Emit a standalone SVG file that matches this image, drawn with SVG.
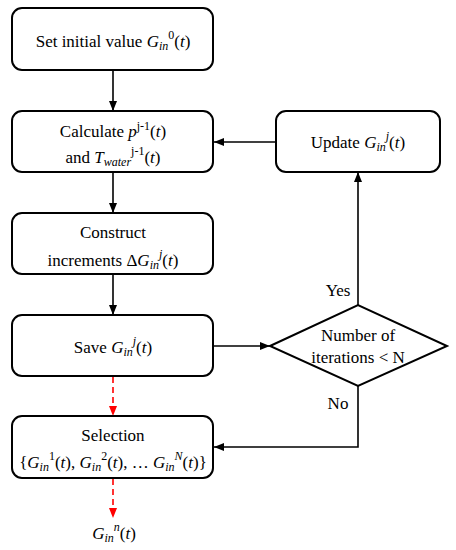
<svg xmlns="http://www.w3.org/2000/svg" width="456" height="550" viewBox="0 0 456 550">
<defs>
<marker id="ab" markerWidth="10" markerHeight="8" refX="10" refY="4" orient="auto" markerUnits="userSpaceOnUse"><path d="M0,0 L10,4 L0,8 Z" fill="#000"/></marker>
<marker id="ar" markerWidth="10" markerHeight="8" refX="10" refY="4" orient="auto" markerUnits="userSpaceOnUse"><path d="M0,0 L10,4 L0,8 Z" fill="#ff0000"/></marker>
<style>
.box{fill:#fff;stroke:#000;stroke-width:2}
.c{fill:none;stroke:#000;stroke-width:1.6}
.r{fill:none;stroke:#ff0000;stroke-width:1.6;stroke-dasharray:6,4}
</style>
</defs>
<rect width="456" height="550" fill="#fff"/>
<g id="connectors">
<line class="c" x1="113" y1="70" x2="113" y2="111" marker-end="url(#ab)"/>
<line class="c" x1="113" y1="172" x2="113" y2="213" marker-end="url(#ab)"/>
<line class="c" x1="113" y1="274" x2="113" y2="315" marker-end="url(#ab)"/>
<line class="c" x1="214" y1="346" x2="270" y2="346" marker-end="url(#ab)"/>
<line class="r" x1="113" y1="377" x2="113" y2="416" marker-end="url(#ar)"/>
<line class="r" x1="113" y1="479" x2="113" y2="518" marker-end="url(#ar)"/>
<line class="c" x1="358" y1="305" x2="358" y2="172" marker-end="url(#ab)"/>
<line class="c" x1="276" y1="142" x2="214" y2="142" marker-end="url(#ab)"/>
<polyline class="c" points="358,386 358,447 214,447" marker-end="url(#ab)"/>
</g>
<g id="labels" font-size="17" text-anchor="middle" fill="#000">
<text style="font-family:'Liberation Serif','Times New Roman',serif" x="338" y="296">Yes</text>
<text style="font-family:'Liberation Serif','Times New Roman',serif" x="338" y="409">No</text>
</g>
<g id="n1" font-size="17" text-anchor="middle">
<rect class="box" x="12" y="8" width="201" height="62" rx="10"/>
<text style="font-family:'Liberation Serif','Times New Roman',serif" x="113" y="47">Set initial value <tspan font-style="italic">G</tspan><tspan font-style="italic" font-size="12" dy="3">in</tspan><tspan font-size="12" dy="-11">0</tspan><tspan dy="8">(</tspan><tspan font-style="italic">t</tspan>)</text>
</g>
<g id="n2" font-size="17" text-anchor="middle">
<rect class="box" x="12" y="111" width="201" height="61" rx="10"/>
<text style="font-family:'Liberation Serif','Times New Roman',serif" x="113" y="137">Calculate  <tspan font-style="italic">p</tspan><tspan font-size="12" dy="-7">j-1</tspan><tspan dy="7">(</tspan><tspan font-style="italic">t</tspan>)</text>
<text style="font-family:'Liberation Serif','Times New Roman',serif" x="113" y="163">and <tspan font-style="italic">T</tspan><tspan font-style="italic" font-size="12" dy="3">water</tspan><tspan font-size="12" dy="-11">j-1</tspan><tspan dy="8">(</tspan><tspan font-style="italic">t</tspan>)</text>
</g>
<g id="n3" font-size="17" text-anchor="middle">
<rect class="box" x="12" y="213" width="201" height="61" rx="10"/>
<text style="font-family:'Liberation Serif','Times New Roman',serif" x="113" y="238">Construct</text>
<text style="font-family:'Liberation Serif','Times New Roman',serif" x="113" y="266">increments  Δ<tspan font-style="italic">G</tspan><tspan font-style="italic" font-size="12" dy="3">in</tspan><tspan font-style="italic" font-size="12" dy="-11">j</tspan><tspan dy="8">(</tspan><tspan font-style="italic">t</tspan>)</text>
</g>
<g id="n4" font-size="17" text-anchor="middle">
<rect class="box" x="12" y="315" width="201" height="61" rx="10"/>
<text style="font-family:'Liberation Serif','Times New Roman',serif" x="113" y="353">Save <tspan font-style="italic">G</tspan><tspan font-style="italic" font-size="12" dy="3">in</tspan><tspan font-style="italic" font-size="12" dy="-11">j</tspan><tspan dy="8">(</tspan><tspan font-style="italic">t</tspan>)</text>
</g>
<g id="n5" font-size="17" text-anchor="middle">
<rect class="box" x="12" y="416" width="201" height="62" rx="10"/>
<text style="font-family:'Liberation Serif','Times New Roman',serif" x="113" y="441">Selection</text>
<text style="font-family:'Liberation Serif','Times New Roman',serif" x="113" y="468">{<tspan font-style="italic">G</tspan><tspan font-style="italic" font-size="12" dy="3">in</tspan><tspan font-size="12" dy="-11">1</tspan><tspan dy="8">(</tspan><tspan font-style="italic">t</tspan>), <tspan font-style="italic">G</tspan><tspan font-style="italic" font-size="12" dy="3">in</tspan><tspan font-size="12" dy="-11">2</tspan><tspan dy="8">(</tspan><tspan font-style="italic">t</tspan>), … <tspan font-style="italic">G</tspan><tspan font-style="italic" font-size="12" dy="3">in</tspan><tspan font-style="italic" font-size="12" dy="-11">N</tspan><tspan dy="8">(</tspan><tspan font-style="italic">t</tspan>)}</text>
</g>
<g id="n6" font-size="17" text-anchor="middle">
<rect class="box" x="276" y="111" width="164" height="61" rx="10"/>
<text style="font-family:'Liberation Serif','Times New Roman',serif" x="358" y="148">Update <tspan font-style="italic">G</tspan><tspan font-style="italic" font-size="12" dy="3">in</tspan><tspan font-style="italic" font-size="12" dy="-11">j</tspan><tspan dy="8">(</tspan><tspan font-style="italic">t</tspan>)</text>
</g>
<g id="n7" font-size="17" text-anchor="middle">
<polygon class="box" points="270,346 358,305 447,346 358,386"/>
<text style="font-family:'Liberation Serif','Times New Roman',serif" x="358" y="341">Number of</text>
<text style="font-family:'Liberation Serif','Times New Roman',serif" x="358" y="363">iterations &lt; N</text>
</g>
<g id="out" font-size="17" text-anchor="middle">
<text style="font-family:'Liberation Serif','Times New Roman',serif" x="114" y="539"><tspan font-style="italic">G</tspan><tspan font-style="italic" font-size="12" dy="3">in</tspan><tspan font-style="italic" font-size="12" dy="-11">n</tspan><tspan dy="8">(</tspan><tspan font-style="italic">t</tspan>)</text>
</g>
</svg>
